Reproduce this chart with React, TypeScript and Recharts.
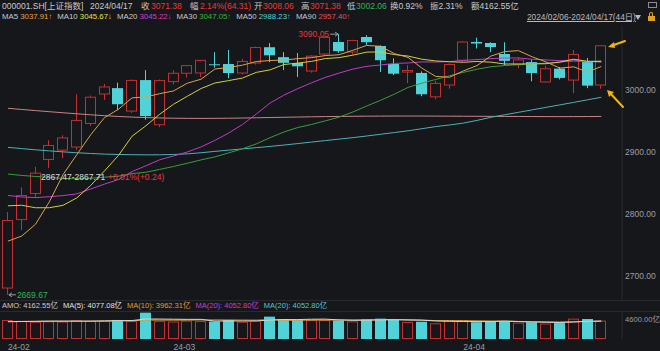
import React from "react";
import { ComposedChart, Bar, Line, XAxis, YAxis, ReferenceDot } from "recharts";

const dates = [
  "2024-02-06", "2024-02-07", "2024-02-08", "2024-02-19", "2024-02-20", "2024-02-21", "2024-02-22", "2024-02-23",
  "2024-02-26", "2024-02-27", "2024-02-28", "2024-02-29", "2024-03-01", "2024-03-04", "2024-03-05", "2024-03-06",
  "2024-03-07", "2024-03-08", "2024-03-11", "2024-03-12", "2024-03-13", "2024-03-14", "2024-03-15", "2024-03-18",
  "2024-03-19", "2024-03-20", "2024-03-21", "2024-03-22", "2024-03-25", "2024-03-26", "2024-03-27", "2024-03-28",
  "2024-03-29", "2024-04-01", "2024-04-02", "2024-04-03", "2024-04-08", "2024-04-09", "2024-04-10", "2024-04-11",
  "2024-04-12", "2024-04-15", "2024-04-16", "2024-04-17",
];
const opens = [
  2680.6, 2791.0, 2833.0, 2888.0, 2903.0, 2908.0, 2946.0, 2993.5, 3003.0, 2966.0, 3016.0, 2944.0, 3013.5, 3027.0, 3027.5,
  3041.5, 3041.9, 3027.4, 3043.5, 3069.0, 3053.0, 3043.5, 3030.6, 3058.0, 3077.4, 3061.3, 3085.5, 3071.0, 3042.0, 3029.0,
  3027.5, 2989.0, 3008.0, 3048.0, 3077.5, 3075.8, 3058.0, 3041.0, 3045.0, 3013.0, 3034.5, 3016.0, 3045.0, 3008.06,
];
const highs = [
  2803.0, 2843.0, 2876.0, 2919.0, 2927.0, 2993.0, 2991.0, 3009.7, 3011.8, 3017.0, 3032.0, 3017.0, 3032.0, 3040.0, 3048.5,
  3061.0, 3064.5, 3050.0, 3070.0, 3075.8, 3061.0, 3059.7, 3056.0, 3086.0, 3090.05, 3081.0, 3088.5, 3072.0, 3051.0, 3040.0,
  3030.0, 3015.0, 3043.0, 3079.0, 3084.4, 3077.0, 3077.0, 3053.0, 3049.0, 3039.0, 3037.0, 3064.5, 3051.6, 3071.38,
];
const lows = [
  2669.67, 2774.0, 2826.0, 2874.0, 2890.0, 2903.0, 2942.0, 2983.9, 2967.7, 2963.0, 2952.0, 2940.0, 3009.0, 3020.0, 3021.0,
  3036.0, 3019.0, 3025.0, 3041.0, 3045.0, 3032.0, 3021.0, 3028.0, 3055.0, 3060.0, 3057.0, 3073.0, 3029.0, 3024.0, 3011.0,
  2990.0, 2985.0, 3002.0, 3045.0, 3067.0, 3061.0, 3040.0, 3035.0, 3014.0, 3012.0, 3017.0, 2995.0, 3003.0, 3002.06,
];
const closes = [
  2789.49, 2829.7, 2865.9, 2910.54, 2922.73, 2950.96, 2988.36, 3004.88, 2977.02, 3015.48, 2957.85, 3015.17, 3027.02,
  3039.31, 3047.79, 3039.93, 3027.4, 3046.02, 3068.46, 3055.94, 3043.83, 3038.23, 3054.64, 3084.93, 3062.76, 3079.69,
  3077.11, 3048.03, 3026.31, 3031.48, 2993.14, 3010.66, 3041.17, 3077.38, 3074.96, 3069.3, 3047.05, 3048.54, 3027.34,
  3034.25, 3019.47, 3057.38, 3007.07, 3071.38,
];
const ma5 = [
  2756.22, 2764.45, 2783.49, 2819.56, 2863.67, 2895.97, 2927.7, 2955.49, 2968.79, 2987.34, 2988.72, 2994.08, 2998.51,
  3010.97, 3017.43, 3033.84, 3036.29, 3040.09, 3045.92, 3047.55, 3048.33, 3050.5, 3052.22, 3055.51, 3056.88, 3064.05,
  3071.83, 3070.5, 3058.78, 3052.52, 3035.21, 3021.92, 3020.55, 3030.77, 3039.46, 3054.69, 3061.97, 3063.45, 3053.44,
  3045.3, 3035.33, 3037.4, 3029.1, 3037.91,
];
const ma10 = [
  2813.21, 2814.1, 2810.08, 2810.12, 2814.05, 2826.1, 2846.08, 2869.49, 2894.18, 2925.51, 2942.34, 2960.89, 2977.0,
  2989.88, 3002.38, 3011.28, 3015.19, 3019.3, 3028.44, 3032.49, 3041.09, 3043.39, 3046.16, 3050.72, 3052.21, 3056.19,
  3061.16, 3061.36, 3057.15, 3054.7, 3049.63, 3046.88, 3045.53, 3044.77, 3045.99, 3044.95, 3041.95, 3042.0, 3042.1,
  3042.38, 3045.01, 3049.68, 3046.27, 3045.67,
];
const ma20 = [
  2829.89, 2827.49, 2826.45, 2827.88, 2829.7, 2832.55, 2840.28, 2848.24, 2855.48, 2868.43, 2877.78, 2887.5, 2893.54,
  2900.0, 2908.22, 2918.69, 2930.63, 2944.39, 2961.31, 2979.0, 2991.71, 3002.14, 3011.58, 3020.3, 3027.3, 3033.74,
  3038.17, 3040.33, 3042.8, 3043.6, 3045.36, 3045.13, 3045.84, 3047.75, 3049.1, 3050.57, 3051.55, 3051.68, 3049.62,
  3048.54, 3047.32, 3048.28, 3045.9, 3045.22,
];
const ma30 = [
  2864.49, 2862.18, 2860.56, 2859.09, 2857.35, 2856.97, 2857.67, 2859.36, 2860.95, 2865.22, 2867.37, 2871.95, 2876.63,
  2881.88, 2887.26, 2892.13, 2898.58, 2905.26, 2913.13, 2923.12, 2932.21, 2939.46, 2944.41, 2950.24, 2956.22, 2964.52,
  2974.14, 2983.38, 2993.26, 3004.23, 3011.02, 3017.05, 3022.89, 3028.46, 3033.53, 3037.48, 3039.43, 3040.89, 3042.56,
  3043.19, 3045.24, 3046.65, 3045.99, 3047.05,
];
const ma50 = [
  2907.5, 2905.5, 2903.5, 2901.8, 2900.2, 2898.8, 2897.6, 2896.6, 2896.0, 2895.6, 2895.4, 2895.5, 2896.0, 2897.0, 2898.8,
  2901.0, 2903.0, 2905.0, 2907.0, 2909.0, 2911.2, 2913.6, 2916.0, 2918.4, 2920.8, 2923.2, 2925.8, 2928.6, 2931.4, 2934.2,
  2937.6, 2941.0, 2943.6, 2946.6, 2951.0, 2956.0, 2960.0, 2964.0, 2968.0, 2972.0, 2976.0, 2980.0, 2984.2, 2988.23,
];
const ma90 = [
  2970.5, 2968.6, 2966.8, 2965.0, 2963.3, 2961.6, 2960.0, 2958.6, 2957.3, 2956.3, 2955.5, 2954.9, 2954.5, 2954.3, 2954.2,
  2954.3, 2954.5, 2954.8, 2955.2, 2955.6, 2956.0, 2956.4, 2956.8, 2957.1, 2957.4, 2957.6, 2957.8, 2957.9, 2958.0, 2958.0,
  2958.0, 2957.9, 2957.8, 2957.7, 2957.6, 2957.5, 2957.4, 2957.3, 2957.2, 2957.1, 2957.0, 2957.1, 2957.2, 2957.4,
];
// turnover, 亿
const volumes = [
  4300, 4100, 3900, 4000, 3950, 4250, 4100, 4150, 4300, 4050, 5950, 4100, 3950, 4150, 4050, 3950, 4300, 3900, 4200, 5050,
  4500, 4300, 4300, 4300, 4200, 4000, 4450, 4600, 4450, 3850, 3900, 3550, 4200, 4230, 3800, 3900, 4050, 3700, 3790, 3500,
  3600, 4600, 4520, 4162.55,
];
const volMa5 = [
  3900, 3950, 4000, 4050, 4050, 4040, 4040, 4090, 4150, 4170, 4510, 4510, 4470, 4440, 4440, 4040, 4080, 4070, 4080, 4280,
  4390, 4390, 4470, 4490, 4320, 4220, 4250, 4310, 4340, 4270, 4250, 4070, 3990, 3946, 3936, 3936, 4036, 3936, 3848, 3788,
  3728, 3838, 4002, 4077.08,
];
const volMa10 = [
  3950, 3960, 3970, 3990, 4000, 4010, 4020, 4040, 4080, 4110, 4275, 4275, 4255, 4265, 4305, 4305, 4295, 4270, 4260, 4360,
  4215, 4230, 4270, 4280, 4300, 4300, 4320, 4390, 4415, 4380, 4285, 4160, 4150, 4140, 4100, 4060, 4050, 3970, 3900, 3860,
  3830, 3890, 3970, 3962.31,
];
const priceTicks = [2700, 2800, 2900, 3000];
const volTicks = [0, 4600];
const monthStarts = ["2024-02-06", "2024-03-01", "2024-04-01"];

const BG = "#15171b";
const UP = "#c3302f";
const DOWN = "#4fd3d9";
const GRID = "#272a31";
const FONT = "'Liberation Sans', 'Noto Sans CJK SC', sans-serif";

const rows = dates.map((date, i) => ({
  date,
  range: [lows[i], highs[i]],
  open: opens[i],
  close: closes[i],
  up: closes[i] >= opens[i],
  ma5: ma5[i],
  ma10: ma10[i],
  ma20: ma20[i],
  ma30: ma30[i],
  ma50: ma50[i],
  ma90: ma90[i],
  vol: volumes[i],
  volMa5: volMa5[i],
  volMa10: volMa10[i],
}));

function Candle(props: any) {
  const { x, y, width, height, payload } = props;
  const top = Math.min(y, y + height);
  const bottom = Math.max(y, y + height);
  const [lo, hi] = payload.range;
  const py = (p: number) => (hi === lo ? top : top + ((hi - p) / (hi - lo)) * (bottom - top));
  const left = Math.round(x);
  const w = Math.round(width);
  const cx = left + Math.floor(w / 2) + 0.5;
  const oY = py(payload.open);
  const cY = py(payload.close);
  const bTop = Math.min(oY, cY);
  const bBot = Math.max(oY, cY);
  const bh = Math.max(bBot - bTop, 1);
  if (payload.up) {
    return (
      <g>
        <line x1={cx} x2={cx} y1={top} y2={bTop} stroke={UP} />
        <line x1={cx} x2={cx} y1={bTop + bh} y2={bottom} stroke={UP} />
        <rect x={left + 0.5} y={bTop} width={w - 1} height={bh} fill="none" stroke={UP} />
      </g>
    );
  }
  return (
    <g>
      <line x1={cx} x2={cx} y1={top} y2={bottom} stroke={DOWN} />
      <rect x={left} y={bTop} width={w} height={bh} fill={DOWN} />
    </g>
  );
}

function VolBar(props: any) {
  const { x, y, width, height, payload } = props;
  const left = Math.round(x);
  const w = Math.round(width);
  if (payload.up) {
    return <rect x={left + 0.5} y={y + 0.5} width={w - 1} height={Math.max(height - 1, 0)} fill="none" stroke={UP} />;
  }
  return <rect x={left} y={y} width={w} height={height} fill={DOWN} />;
}

const PriceTick = (p: any) => (
  <text x={p.x} y={p.y} dy={3} fill="#9c9ea3" fontSize={8.5} fontFamily={FONT} textAnchor="start">
    {Number(p.payload.value).toFixed(2)}
  </text>
);

const VolTick = (p: any) => (
  <text x={p.x} y={p.y} dy={p.payload.value === 0 ? -3 : 3} fill="#9c9ea3" fontSize={7.6} fontFamily={FONT} textAnchor="start">
    {p.payload.value === 0 ? "0" : `${Number(p.payload.value).toFixed(2)}亿`}
  </text>
);

const DateTick = (p: any) => (
  <text x={p.x} y={p.y} dy={9} fill="#9c9ea3" fontSize={8.5} fontFamily={FONT} textAnchor="start">
    {String(p.payload.value).slice(2, 7)}
  </text>
);

const maxIdx = highs.indexOf(Math.max(...highs));
const minIdx = lows.indexOf(Math.min(...lows));

const HighMark = (p: any) => (
  <g>
    <text x={p.cx - 10} y={p.cy + 3} fill="#e0393c" fontSize={8.5} fontFamily={FONT} textAnchor="end">
      {highs[maxIdx].toFixed(2)}
    </text>
    <line x1={p.cx - 9} x2={p.cx - 1} y1={p.cy} y2={p.cy} stroke="#9c9ea3" />
    <path d={`M${p.cx - 4},${p.cy - 2} L${p.cx - 1},${p.cy} L${p.cx - 4},${p.cy + 2}`} fill="none" stroke="#9c9ea3" />
  </g>
);

const LowMark = (p: any) => (
  <g>
    <line x1={p.cx + 1} x2={p.cx + 8} y1={p.cy} y2={p.cy} stroke="#9c9ea3" />
    <path d={`M${p.cx + 4},${p.cy - 2} L${p.cx + 1},${p.cy} L${p.cx + 4},${p.cy + 2}`} fill="none" stroke="#9c9ea3" />
    <text x={p.cx + 9} y={p.cy + 3} fill="#2fb455" fontSize={8.5} fontFamily={FONT} textAnchor="start">
      {lows[minIdx].toFixed(2)}
    </text>
  </g>
);

const T = ({ x, y, c, children, style }: any) => (
  <span
    style={{
      position: "absolute",
      left: x,
      top: y,
      color: c,
      fontSize: 8.5,
      lineHeight: "10px",
      whiteSpace: "nowrap",
      fontFamily: FONT,
      ...style,
    }}
  >
    {children}
  </span>
);

const Row = ({ x, y, size, gap, children }: any) => (
  <div
    style={{
      position: "absolute",
      left: x,
      top: y,
      display: "flex",
      gap,
      fontSize: size,
      lineHeight: "10px",
      whiteSpace: "nowrap",
      fontFamily: FONT,
    }}
  >
    {children}
  </div>
);

const trend = (a: number[]) => (a[a.length - 1] >= a[a.length - 2] ? "↑" : "↓");
const last = (a: number[]) => a[a.length - 1].toFixed(2);

const LBL = "#c9cacd";
const RED = "#e8393c";

const maLegend = [
  { name: "MA5", data: ma5, color: "#f0a23a" },
  { name: "MA10", data: ma10, color: "#e4e43c" },
  { name: "MA20", data: ma20, color: "#d43fd4" },
  { name: "MA30", data: ma30, color: "#3cb43c" },
  { name: "MA50", data: ma50, color: "#5ad2d6" },
  { name: "MA90", data: ma90, color: "#e4505a" },
];

export default function App() {
  return (
    <div style={{ position: "relative", width: 660, height: 351, background: BG, overflow: "hidden" }}>
      <style>{`body{margin:0;background:${BG}}`}</style>

      {/* main price panel */}
      <div style={{ position: "absolute", left: 0, top: 0 }}>
        <ComposedChart width={660} height={300} data={rows} margin={{ top: 25, right: 0, bottom: 0, left: 1 }}>
          <XAxis dataKey="date" hide padding={{ left: 0, right: 13.8 }} />
          <YAxis
            orientation="right"
            width={38}
            domain={[2661.29, 3104.84]}
            ticks={priceTicks}
            axisLine={{ stroke: GRID }}
            tickLine={false}
            tickSize={0}
            tickMargin={3}
            tick={<PriceTick />}
          />
          <Line dataKey="ma90" stroke="#c98486" strokeWidth={1} dot={false} isAnimationActive={false} />
          <Line dataKey="ma50" stroke="#4eb0b8" strokeWidth={1} dot={false} isAnimationActive={false} />
          <Line dataKey="ma30" stroke="#3a9c3e" strokeWidth={1} dot={false} isAnimationActive={false} />
          <Line dataKey="ma20" stroke="#bd3cc6" strokeWidth={1} dot={false} isAnimationActive={false} />
          <Bar dataKey="range" barSize={11} shape={<Candle />} isAnimationActive={false} />
          <Line dataKey="ma10" stroke="#cfcf40" strokeWidth={1} dot={false} isAnimationActive={false} />
          <Line dataKey="ma5" stroke="#dca24c" strokeWidth={1} dot={false} isAnimationActive={false} />
          <ReferenceDot x={dates[maxIdx]} y={highs[maxIdx]} r={0} shape={<HighMark />} />
          <ReferenceDot x={dates[minIdx]} y={lows[minIdx]} r={0} shape={<LowMark />} />
        </ComposedChart>
      </div>

      {/* volume panel */}
      <div style={{ position: "absolute", left: 0, top: 300 }}>
        <ComposedChart width={660} height={51} data={rows} margin={{ top: 12, right: 0, bottom: 0, left: 1 }}>
          <XAxis
            dataKey="date"
            height={12}
            padding={{ left: 0, right: 13.8 }}
            ticks={monthStarts}
            interval={0}
            axisLine={false}
            tickLine={false}
            tickSize={0}
            tick={<DateTick />}
          />
          <YAxis
            orientation="right"
            width={38}
            domain={[0, 6100]}
            ticks={volTicks}
            axisLine={{ stroke: GRID }}
            tickLine={false}
            tickSize={0}
            tickMargin={3}
            tick={<VolTick />}
          />
          <Bar dataKey="vol" barSize={11} shape={<VolBar />} isAnimationActive={false} />
          <Line dataKey="volMa10" stroke="#d99a3c" strokeWidth={1} dot={false} isAnimationActive={false} />
          <Line dataKey="volMa5" stroke="#d8d6cc" strokeWidth={1} dot={false} isAnimationActive={false} />
        </ComposedChart>
      </div>

      {/* separators */}
      <div style={{ position: "absolute", left: 0, top: 300, width: 660, height: 1, background: GRID }} />
      <div style={{ position: "absolute", left: 0, top: 311, width: 660, height: 1, background: GRID }} />

      {/* header row 1 */}
      <T x={2} y={1} c={LBL}>000001.SH[上证指数]</T>
      <T x={90} y={1} c={LBL}>2024/04/17</T>
      <T x={141} y={1} c={LBL}>收</T>
      <T x={151} y={1} c={RED}>{closes[closes.length - 1].toFixed(2)}</T>
      <T x={190} y={1} c={LBL}>幅</T>
      <T x={200} y={1} c={RED}>2.14%(64.31)</T>
      <T x={254} y={1} c={LBL}>开</T>
      <T x={263} y={1} c={RED}>{opens[opens.length - 1].toFixed(2)}</T>
      <T x={301} y={1} c={LBL}>高</T>
      <T x={310} y={1} c={RED}>{highs[highs.length - 1].toFixed(2)}</T>
      <T x={347} y={1} c={LBL}>低</T>
      <T x={356} y={1} c="#2fb455">{lows[lows.length - 1].toFixed(2)}</T>
      <T x={390} y={1} c={LBL}>换0.92%</T>
      <T x={430} y={1} c={LBL}>振2.31%</T>
      <T x={471} y={1} c={LBL}>额4162.55亿</T>
      <div style={{ position: "absolute", left: 648, top: 2, width: 9, height: 6, border: "1px solid #8a8c91", boxSizing: "border-box" }} />

      {/* header row 2: moving-average legend */}
      <Row x={2} y={12} size={7.8} gap={5}>
        {maLegend.map((m) => (
          <span key={m.name}>
            <span style={{ color: LBL }}>{m.name} </span>
            <span style={{ color: m.color }}>
              {last(m.data)}
              {trend(m.data)}
            </span>
          </span>
        ))}
      </Row>
      <T x={527} y={12} c="#b9babd" style={{ textDecoration: "underline", fontSize: 8.3 }}>
        2024/02/06-2024/04/17(44日)
      </T>
      <div
        style={{
          position: "absolute",
          left: 635,
          top: 15,
          width: 0,
          height: 0,
          borderLeft: "3.5px solid transparent",
          borderRight: "3.5px solid transparent",
          borderTop: "5px solid #b9babd",
        }}
      />
      <div style={{ position: "absolute", left: 648, top: 16, width: 7, height: 5, background: "#e0a020" }} />
      <div
        style={{
          position: "absolute",
          left: 649,
          top: 12,
          width: 4,
          height: 4,
          border: "1px solid #e0a020",
          borderBottom: "none",
          borderRadius: "2px 2px 0 0",
          boxSizing: "border-box",
        }}
      />

      {/* range annotation */}
      <T x={41} y={172} c="#d8d8d8">2867.47-2867.71</T>
      <T x={108} y={172} c={RED}>+0.01%(+0.24)</T>

      {/* volume legend */}
      <Row x={2} y={300.5} size={7.5} gap={5}>
        <span style={{ color: LBL }}>AMO: {volumes[volumes.length - 1].toFixed(2)}亿</span>
        <span style={{ color: "#e2e2e2" }}>MA(5): 4077.08亿</span>
        <span style={{ color: "#e8982c" }}>MA(10): 3962.31亿</span>
        <span style={{ color: "#d03ad0" }}>MA(20): 4052.80亿</span>
        <span style={{ color: "#4fc8cf" }}>MA(20): 4052.80亿</span>
      </Row>

      {/* callout arrows */}
      <svg width={660} height={351} style={{ position: "absolute", left: 0, top: 0, pointerEvents: "none" }}>
        <g stroke="#f2b705" strokeWidth={2} fill="#f2b705" strokeLinecap="round">
          <line x1={625} y1={41} x2={611} y2={46} />
          <path d="M608,47 L614,42 L615,48 Z" stroke="none" />
          <line x1={623} y1={107} x2={610} y2={93} />
          <path d="M607,90 L614,92 L609,97 Z" stroke="none" />
        </g>
      </svg>
    </div>
  );
}
